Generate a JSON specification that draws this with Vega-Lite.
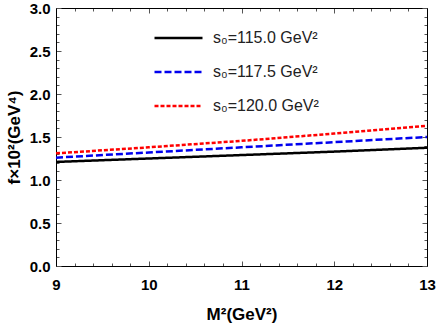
{
  "$schema": "https://vega.github.io/schema/vega-lite/v6.json",
  "width": 371,
  "height": 258,
  "autosize": {"type": "none"},
  "padding": {"left": 56, "top": 8, "right": 9, "bottom": 61},
  "config": {
    "view": {"stroke": null},
    "font": "Liberation Sans",
    "axis": {
      "domainColor": "#000000",
      "domainWidth": 1,
      "tickColor": "#555555",
      "tickWidth": 1,
      "tickSize": -5,
      "grid": false,
      "labelFont": "Liberation Sans",
      "labelFontSize": 15,
      "labelFontWeight": "bold",
      "labelColor": "#000000",
      "labelOverlap": false,
      "labelFlush": false,
      "titleFont": "Liberation Sans",
      "titleFontSize": 17,
      "titleFontWeight": "bold",
      "titleColor": "#000000"
    }
  },
  "data": {
    "values": [
      {"x": 9, "y": 1.21, "s": "s₀=115.0 GeV²"},
      {"x": 10, "y": 1.25, "s": "s₀=115.0 GeV²"},
      {"x": 11, "y": 1.29, "s": "s₀=115.0 GeV²"},
      {"x": 12, "y": 1.33, "s": "s₀=115.0 GeV²"},
      {"x": 13, "y": 1.375, "s": "s₀=115.0 GeV²"},
      {"x": 9, "y": 1.26, "s": "s₀=117.5 GeV²"},
      {"x": 10, "y": 1.32, "s": "s₀=117.5 GeV²"},
      {"x": 11, "y": 1.38, "s": "s₀=117.5 GeV²"},
      {"x": 12, "y": 1.44, "s": "s₀=117.5 GeV²"},
      {"x": 13, "y": 1.50, "s": "s₀=117.5 GeV²"},
      {"x": 9, "y": 1.31, "s": "s₀=120.0 GeV²"},
      {"x": 10, "y": 1.38, "s": "s₀=120.0 GeV²"},
      {"x": 11, "y": 1.455, "s": "s₀=120.0 GeV²"},
      {"x": 12, "y": 1.54, "s": "s₀=120.0 GeV²"},
      {"x": 13, "y": 1.63, "s": "s₀=120.0 GeV²"}
    ]
  },
  "resolve": {"axis": {"x": "independent", "y": "independent"}},
  "layer": [
    {
      "mark": {"type": "line", "strokeWidth": 2.5},
      "encoding": {
        "x": {
          "field": "x", "type": "quantitative",
          "scale": {"domain": [9, 13], "nice": false, "zero": false},
          "axis": {
            "orient": "bottom",
            "title": "M²(GeV²)",
            "titlePadding": 14,
            "labelPadding": 16,
            "values": [9, 9.2, 9.4, 9.6, 9.8, 10, 10.2, 10.4, 10.6, 10.8, 11, 11.2, 11.4, 11.6, 11.8, 12, 12.2, 12.4, 12.6, 12.8, 13],
            "labelExpr": "abs(datum.value - round(datum.value)) < 0.001 ? format(datum.value, 'd') : ''",
            "tickDash": {"condition": {"test": "abs(datum.value - round(datum.value)) < 0.001", "value": [5, 0]}, "value": [3, 20]}
          }
        },
        "y": {
          "field": "y", "type": "quantitative",
          "scale": {"domain": [0, 3], "nice": false},
          "axis": {
            "orient": "left",
            "title": "f×10²(GeV⁴)",
            "titlePadding": 6,
            "labelPadding": 11,
            "values": [0, 0.1, 0.2, 0.3, 0.4, 0.5, 0.6, 0.7, 0.8, 0.9, 1, 1.1, 1.2, 1.3, 1.4, 1.5, 1.6, 1.7, 1.8, 1.9, 2, 2.1, 2.2, 2.3, 2.4, 2.5, 2.6, 2.7, 2.8, 2.9, 3],
            "labelExpr": "abs(datum.value * 2 - round(datum.value * 2)) < 0.001 ? format(datum.value, '.1f') : ''",
            "tickDash": {"condition": {"test": "abs(datum.value * 2 - round(datum.value * 2)) < 0.001", "value": [5, 0]}, "value": [3, 20]}
          }
        },
        "color": {
          "field": "s", "type": "nominal",
          "scale": {"domain": ["s₀=115.0 GeV²", "s₀=117.5 GeV²", "s₀=120.0 GeV²"], "range": ["#000000", "#0000ee", "#ff0000"]},
          "legend": {"orient": "none", "legendX": 97, "legendY": 20, "title": null, "symbolType": "stroke", "symbolSize": 2304, "symbolStrokeWidth": 2.5, "labelFont": "Liberation Sans", "labelFontSize": 16, "labelColor": "#222222", "labelOffset": 9, "rowPadding": 14, "clipHeight": 20, "padding": 0}
        },
        "strokeDash": {
          "field": "s", "type": "nominal",
          "scale": {"domain": ["s₀=115.0 GeV²", "s₀=117.5 GeV²", "s₀=120.0 GeV²"], "range": [[1, 0], [7, 3], [4, 2]]},
          "legend": {"orient": "none", "legendX": 97, "legendY": 20, "title": null, "symbolType": "stroke", "symbolSize": 2304, "symbolStrokeWidth": 2.5, "labelFont": "Liberation Sans", "labelFontSize": 16, "labelColor": "#222222", "labelOffset": 9, "rowPadding": 14, "clipHeight": 20, "padding": 0}
        }
      }
    },
    {
      "mark": {"type": "point", "opacity": 0},
      "encoding": {
        "x": {
          "field": "x", "type": "quantitative",
          "axis": {
            "orient": "top",
            "title": null,
            "labels": false,
            "values": [9, 9.2, 9.4, 9.6, 9.8, 10, 10.2, 10.4, 10.6, 10.8, 11, 11.2, 11.4, 11.6, 11.8, 12, 12.2, 12.4, 12.6, 12.8, 13],
            "tickDash": {"condition": {"test": "abs(datum.value - round(datum.value)) < 0.001", "value": [5, 0]}, "value": [3, 20]}
          }
        },
        "y": {
          "field": "y", "type": "quantitative",
          "axis": {
            "orient": "right",
            "title": null,
            "labels": false,
            "values": [0, 0.1, 0.2, 0.3, 0.4, 0.5, 0.6, 0.7, 0.8, 0.9, 1, 1.1, 1.2, 1.3, 1.4, 1.5, 1.6, 1.7, 1.8, 1.9, 2, 2.1, 2.2, 2.3, 2.4, 2.5, 2.6, 2.7, 2.8, 2.9, 3],
            "tickDash": {"condition": {"test": "abs(datum.value * 2 - round(datum.value * 2)) < 0.001", "value": [5, 0]}, "value": [3, 20]}
          }
        }
      }
    }
  ]
}
